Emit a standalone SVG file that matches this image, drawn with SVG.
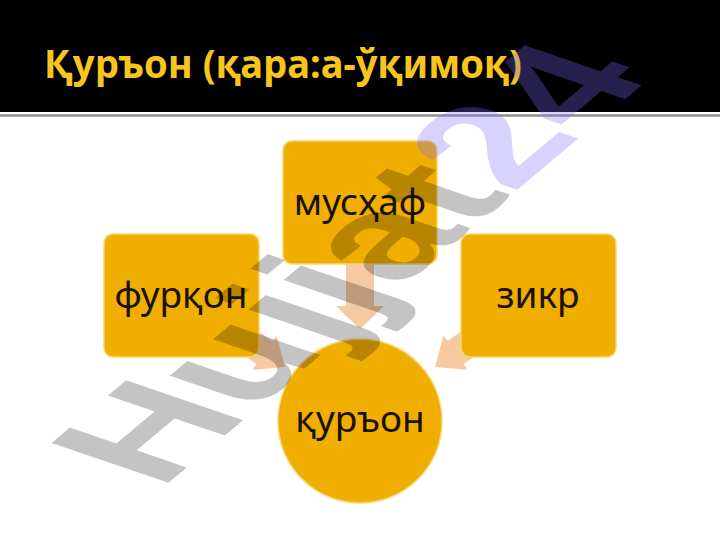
<svg xmlns="http://www.w3.org/2000/svg" width="720" height="540" viewBox="0 0 720 540">
<style>
.node{fill:#f0ae00;stroke:#f8d672;stroke-width:1.5}
.lbl{font-family:"Noto Sans","Open Sans","DejaVu Sans",sans-serif;font-size:37px;fill:#1a1200;text-anchor:middle}
.arrow{fill:#f7c9a2}
.title{font-family:"Noto Sans","Open Sans","DejaVu Sans",sans-serif;font-weight:bold;font-size:40px;fill:#f8c51c}
.wm{font-family:"Liberation Sans",Arial,sans-serif;font-weight:bold;font-size:100px}
</style>
<rect x="0" y="0" width="720" height="540" fill="#ffffff"/>
<rect x="0" y="0" width="720" height="112" fill="#000000"/>
<line x1="0" y1="115.5" x2="720" y2="115.5" stroke="#8f8f8f" stroke-width="2.5"/>
<text class="title" x="44" y="78" textLength="478" lengthAdjust="spacingAndGlyphs">Қуръон (қара:а-ўқимоқ)</text>
<g id="connectors">
<polygon class="arrow" points="346,262 374,262 374,306 384,306 360,329 336,306 346,306"/>
<polygon class="arrow" points="435,367 467.6,369.8 463.5,364 492,344 476,321 447.5,341 443.4,335.4"/>
<polygon class="arrow" points="285,367 252.4,369.8 256.5,364 228,344 244,321 272.5,341 276.6,335.4"/>
</g>
<g id="node-mushaf">
<rect class="node" x="283" y="141" width="154" height="123" rx="9"/>
<text class="lbl" x="360" y="215">мусҳаф</text>
</g>
<g id="node-furqon">
<rect class="node" x="104" y="234" width="155" height="123" rx="9"/>
<text class="lbl" x="181" y="308">фурқон</text>
</g>
<g id="node-zikr">
<rect class="node" x="461" y="234" width="155" height="123" rx="9"/>
<text class="lbl" x="538" y="308">зикр</text>
</g>
<g id="node-quron">
<circle class="node" cx="360" cy="421" r="82"/>
<text class="lbl" x="360" y="432">қуръон</text>
</g>
<text class="wm" transform="matrix(1.27,-1.067,1.70,0.58,160,490)" x="0" y="0"><tspan fill="#000000" fill-opacity="0.23">Hujjat</tspan><tspan fill="#7f6bff" fill-opacity="0.3">24</tspan></text>
</svg>
